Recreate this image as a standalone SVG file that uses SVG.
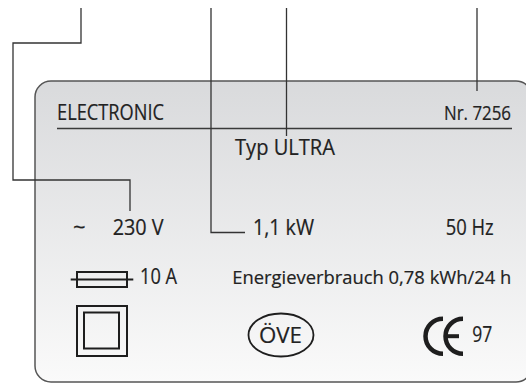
<svg xmlns="http://www.w3.org/2000/svg" width="526" height="383" viewBox="0 0 526 383">
  <defs>
    <linearGradient id="panelFill" x1="0" y1="0" x2="0" y2="1">
      <stop offset="0" stop-color="#d9dadc"/>
      <stop offset="1" stop-color="#fafafa"/>
    </linearGradient>
  </defs>
  <style>
    .t { font-family: "Open Sans", "Noto Sans", "Liberation Sans", sans-serif; font-size: 22px; fill: #222; stroke: #222; stroke-width: 0.2; }
    .nr { font-size: 20.3px; }
    .en { font-size: 19px; }
    .lead { fill: none; stroke: #333; stroke-width: 1.3; }
    .sym { fill: none; stroke: #1e1e1e; stroke-width: 2; }
  </style>
  <rect fill="#ffffff" x="0" y="0" width="526" height="383"/>

  <g id="panel">
    <rect x="35" y="81" width="497" height="301" rx="16" ry="16" fill="url(#panelFill)" stroke="#555" stroke-width="1.5"/>
    <line x1="57" y1="128.5" x2="512" y2="128.5" stroke="#3a3a3a" stroke-width="1.5"/>
  </g>

  <g id="connectors">
    <polyline class="lead" points="81,8 81,43 13,43 13,180 130,180 130,211"/>
    <polyline class="lead" points="211,8 211,232.5 245,232.5"/>
    <line class="lead" x1="286.5" y1="8" x2="286.5" y2="136"/>
    <line class="lead" x1="477" y1="8" x2="477" y2="91"/>
  </g>

  <g id="electronic"><text class="t" x="57" y="120" textLength="107" lengthAdjust="spacingAndGlyphs">ELECTRONIC</text></g>
  <g id="nr"><text class="t nr" x="444" y="120" textLength="67" lengthAdjust="spacingAndGlyphs">Nr. 7256</text></g>
  <g id="typ"><text class="t" x="235" y="155" textLength="100" lengthAdjust="spacingAndGlyphs">Typ ULTRA</text></g>

  <g id="tilde"><text class="t" x="73" y="235">~</text></g>
  <g id="voltage"><text class="t" x="112.7" y="235" textLength="51" lengthAdjust="spacingAndGlyphs">230 V</text></g>
  <g id="power"><text class="t" x="253" y="235" textLength="61" lengthAdjust="spacingAndGlyphs">1,1 kW</text></g>
  <g id="freq"><text class="t" x="445.7" y="235" textLength="48" lengthAdjust="spacingAndGlyphs">50 Hz</text></g>

  <g id="fuse">
    <line class="sym" x1="70.7" y1="279.5" x2="133.3" y2="279.5"/>
    <rect class="sym" x="77" y="272" width="50" height="15"/>
    <text class="t" x="140" y="284.3" textLength="37" lengthAdjust="spacingAndGlyphs">10 A</text>
  </g>
  <g id="energy"><text class="t en" x="232.3" y="284.3" textLength="279" lengthAdjust="spacingAndGlyphs">Energieverbrauch 0,78 kWh/24 h</text></g>

  <g id="class2">
    <rect class="sym" x="77" y="306" width="50" height="50"/>
    <rect class="sym" x="84" y="312.5" width="35" height="36"/>
  </g>

  <g id="ove">
    <ellipse cx="281" cy="335" rx="32.5" ry="21.5" fill="none" stroke="#1e1e1e" stroke-width="1.8"/>
    <text class="t" x="280.5" y="343" text-anchor="middle" textLength="43" lengthAdjust="spacingAndGlyphs">ÖVE</text>
  </g>

  <g id="ce">
    <path d="M443,318.7 A17.5,17.5 0 0 0 443,353.7" fill="none" stroke="#1e1e1e" stroke-width="4.5"/>
    <path d="M463,318.7 A17.5,17.5 0 0 0 463,353.7" fill="none" stroke="#1e1e1e" stroke-width="4.5"/>
    <line x1="446" y1="336.2" x2="459" y2="336.2" stroke="#1e1e1e" stroke-width="4"/>
    <text class="t" x="472.3" y="341.7" textLength="20" lengthAdjust="spacingAndGlyphs">97</text>
  </g>
</svg>
